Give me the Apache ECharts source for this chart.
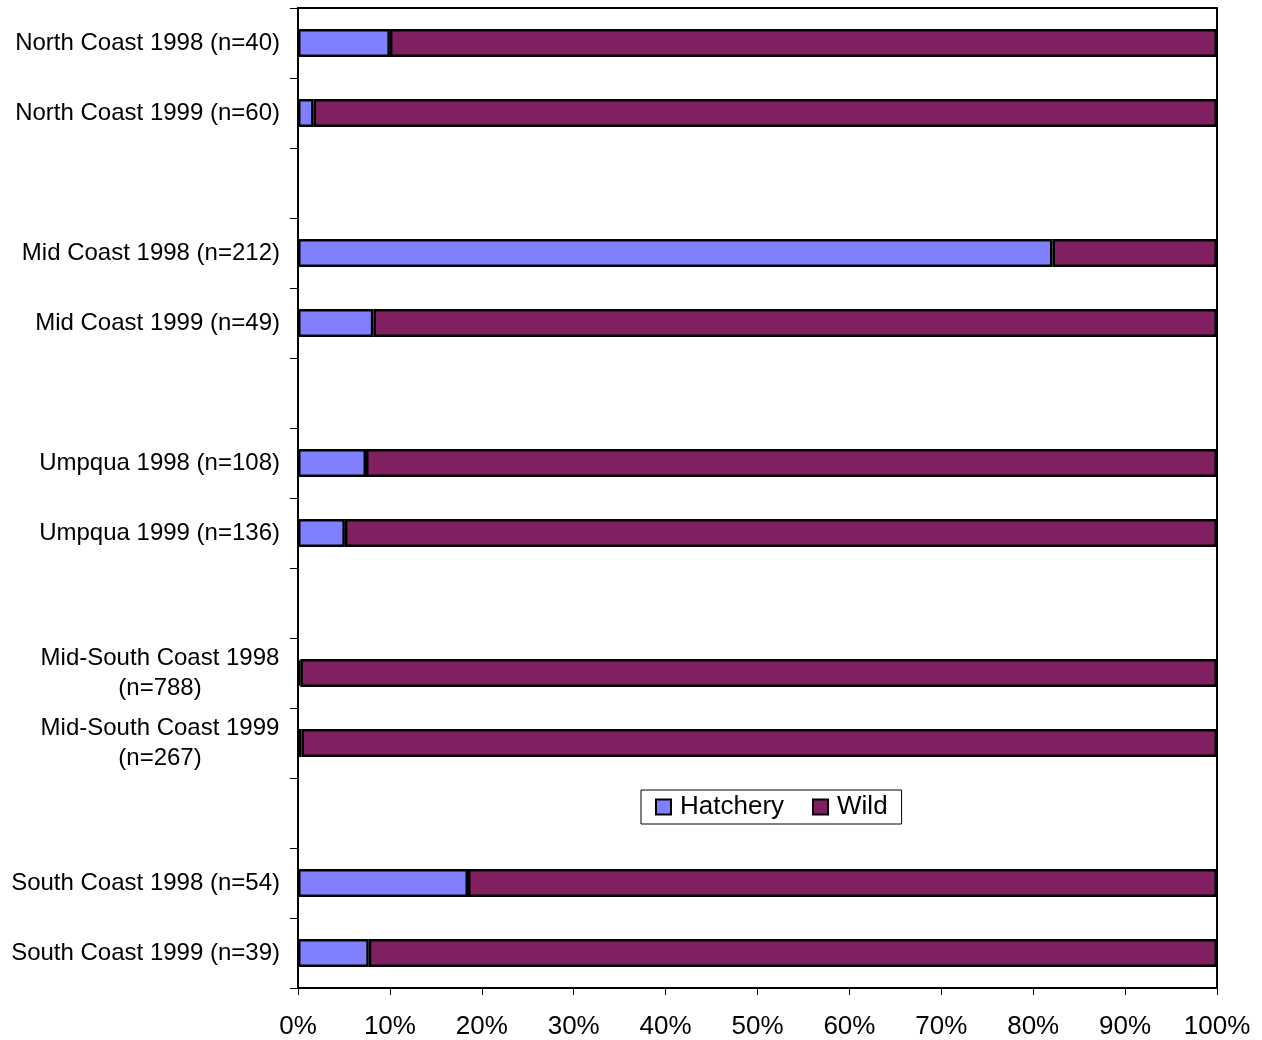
<!DOCTYPE html>
<html>
<head>
<meta charset="utf-8">
<script src="https://cdn.jsdelivr.net/npm/echarts@6/dist/echarts.min.js"></script>
<style>
  html, body { margin: 0; padding: 0; background: #fff; }
  #chart { width: 1262px; height: 1040px; }
</style>
</head>
<body>
<div id="chart"></div>
<script>
var categories = [
  'North Coast 1998 (n=40)',
  'North Coast 1999 (n=60)',
  '',
  'Mid Coast 1998 (n=212)',
  'Mid Coast 1999 (n=49)',
  '',
  'Umpqua 1998 (n=108)',
  'Umpqua 1999 (n=136)',
  '',
  'Mid-South Coast 1998\n(n=788)',
  'Mid-South Coast 1999\n(n=267)',
  '',
  'South Coast 1998 (n=54)',
  'South Coast 1999 (n=39)'
];
var hatchery = [10.0, 1.7, null, 82.1, 8.2, null, 7.4, 5.1, null, 0.25, 0.37, null, 18.5, 7.7];
var wild = [90.0, 98.3, null, 17.9, 91.8, null, 92.6, 94.9, null, 99.75, 99.63, null, 81.5, 92.3];
var xTicks = [0, 10, 20, 30, 40, 50, 60, 70, 80, 90, 100];

var chart = echarts.init(document.getElementById('chart'));
var font = 'Liberation Sans, Arial, sans-serif';

chart.setOption({
  animation: false,
  backgroundColor: '#fff',
  textStyle: { fontFamily: font, color: '#000' },
  grid: {
    left: 298, right: 45, top: 8, bottom: 52,
    show: true, borderColor: '#000', borderWidth: 2, backgroundColor: 'transparent'
  },
  legend: {
    left: 641, top: 790,
    data: ['Hatchery', 'Wild'],
    icon: 'rect',
    itemWidth: 15, itemHeight: 15,
    itemGap: 28,
    padding: [4, 14, 4, 14],
    borderColor: '#000', borderWidth: 1,
    textStyle: { fontFamily: font, fontSize: 26, color: '#000', padding: [0, 0, 0, 4] }
  },
  xAxis: {
    type: 'value',
    min: xTicks[0], max: xTicks[xTicks.length - 1], interval: 10,
    axisLine: { show: true, lineStyle: { color: '#000', width: 2 } },
    axisTick: { show: true, length: 7, lineStyle: { color: '#000', width: 1 } },
    axisLabel: { formatter: '{value}%', fontSize: 26, color: '#000', margin: 26, fontFamily: font },
    splitLine: { show: false }
  },
  yAxis: {
    type: 'category',
    inverse: true,
    data: categories,
    axisLine: { show: true, lineStyle: { color: '#000', width: 2 } },
    axisTick: { show: true, length: 8, alignWithLabel: false, interval: 0, lineStyle: { color: '#000', width: 1 } },
    axisLabel: {
      interval: 0, fontSize: 24, color: '#000', margin: 18, fontFamily: font,
      formatter: function (v) {
        if (v.indexOf('\n') >= 0) {
          var p = v.split('\n');
          return '{c|' + p[0] + '}\n{c|' + p[1] + '}';
        }
        return v;
      },
      rich: {
        c: { width: 240, align: 'center', fontSize: 24, fontFamily: font, color: '#000', lineHeight: 30 }
      }
    },
    splitLine: { show: false }
  },
  series: [
    {
      name: 'Hatchery', type: 'bar', stack: 'total', barWidth: '40%',
      data: hatchery,
      itemStyle: { color: '#8080FF', borderColor: '#000', borderWidth: 2.5 }
    },
    {
      name: 'Wild', type: 'bar', stack: 'total', barWidth: '40%',
      data: wild,
      itemStyle: { color: '#802060', borderColor: '#000', borderWidth: 2.5 }
    }
  ]
});
</script>
</body>
</html>
